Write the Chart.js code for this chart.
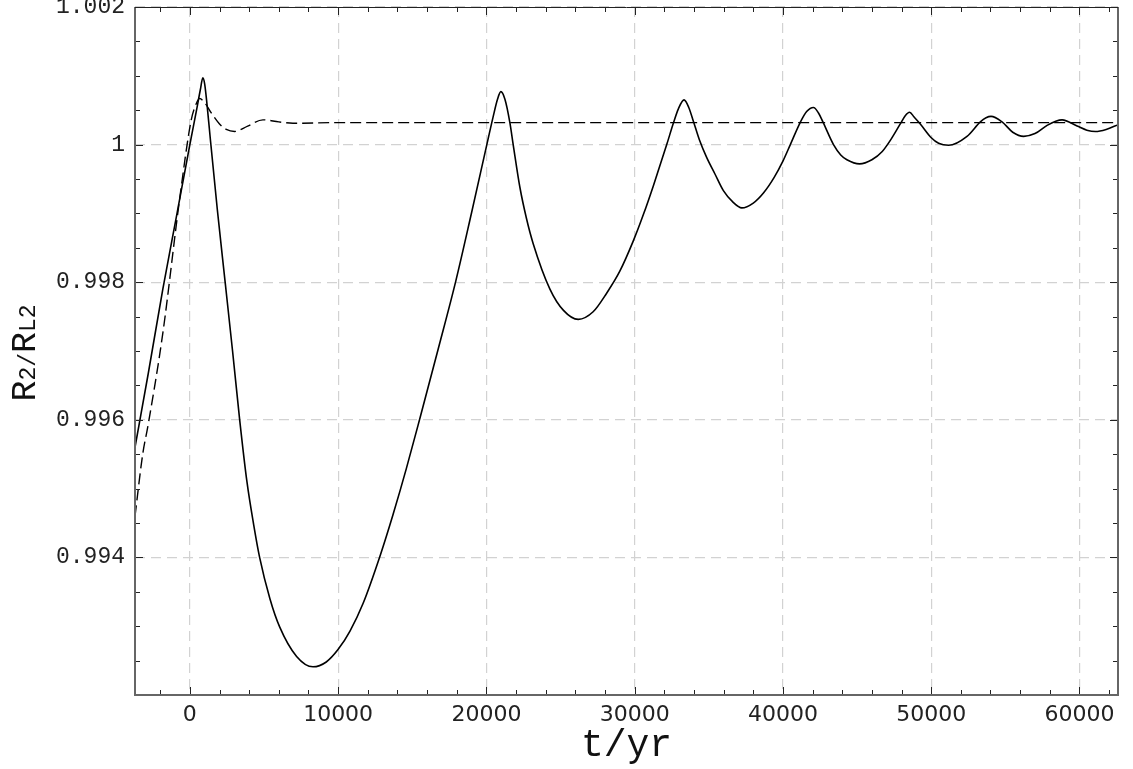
<!DOCTYPE html>
<html>
<head>
<meta charset="utf-8">
<script src="https://cdn.jsdelivr.net/npm/chart.js@4.4.1/dist/chart.umd.min.js"></script>
<style>
  html, body { margin: 0; padding: 0; background: #fff; }
  #wrap { width: 1133px; height: 769px; }
</style>
</head>
<body>
<div id="wrap"><canvas id="c" width="1133" height="769"></canvas></div>
<script>
// solid curve: t (yr) and R2/RL2
const solidT = [-3700, -2800, -1823, -900, 0, 450, 700, 878, 1000, 1150, 1350, 1850, 2380, 2880, 3360, 3850, 4300, 4705, 5400, 6056, 7200, 8305, 9200, 9992, 10800, 11680, 12855, 13700, 14600, 15575, 16750, 17940, 19000, 20030, 20450, 20750, 20976, 21250, 21584, 21807, 22259, 22700, 23157, 24285, 25200, 26195, 27200, 28110, 29000, 29909, 30600, 31258, 32163, 32609, 32950, 33331, 33650, 33960, 34365, 34863, 35400, 35985, 36600, 37227, 38000, 38700, 39400, 40000, 40500, 41163, 41600, 42061, 42400, 42696, 43411, 43900, 44316, 45167, 46000, 46700, 47300, 47914, 48250, 48543, 48850, 49265, 50007, 50500, 51175, 52416, 53315, 53700, 54037, 54780, 55500, 56238, 57000, 57818, 58400, 58830, 59843, 60500, 61080, 61800, 62614];
const solidR = [0.99560, 0.99668, 0.99790, 0.99896, 1.00000, 1.00050, 1.00079, 1.00097, 1.00088, 1.00060, 1.00015, 0.99906, 0.99800, 0.99700, 0.99600, 0.99510, 0.99448, 0.99400, 0.99340, 0.99299, 0.99256, 0.99241, 0.99248, 0.99266, 0.99293, 0.99333, 0.99404, 0.99462, 0.99529, 0.99607, 0.99703, 0.99802, 0.99901, 1.00000, 1.00040, 1.00066, 1.00077, 1.00066, 1.00032, 1.00000, 0.99938, 0.99893, 0.99856, 0.99790, 0.99759, 0.99746, 0.99757, 0.99784, 0.99816, 0.99860, 0.99899, 0.99940, 1.00000, 1.00031, 1.00052, 1.00065, 1.00054, 1.00034, 1.00007, 0.99981, 0.99958, 0.99933, 0.99917, 0.99908, 0.99915, 0.99930, 0.99952, 0.99976, 1.00000, 1.00032, 1.00048, 1.00054, 1.00046, 1.00033, 1.00000, 0.99985, 0.99978, 0.99972, 0.99978, 0.99990, 1.00008, 1.00030, 1.00042, 1.00047, 1.00040, 1.00030, 1.00010, 1.00002, 0.99999, 1.00012, 1.00033, 1.00039, 1.00041, 1.00033, 1.00018, 1.00012, 1.00016, 1.00028, 1.00034, 1.00036, 1.00027, 1.00021, 1.00019, 1.00022, 1.00029];

// dashed curve
const dashT = [-3700, -3173, -2836, -1823, -695, 94, 400, 655, 1000, 1445, 2000, 2457, 3018, 3900, 4928, 6000, 6954, 10000, 20000, 30000, 40000, 50000, 62614];
const dashR = [0.99460, 0.99551, 0.99590, 0.99726, 0.99920, 1.00036, 1.00058, 1.00067, 1.00061, 1.00046, 1.00030, 1.00022, 1.00019, 1.00027, 1.00036, 1.00033, 1.00031, 1.00032, 1.00032, 1.00032, 1.00032, 1.00032, 1.00032];

const xTickValues = [0, 10000, 20000, 30000, 40000, 50000, 60000];
const xTickLabels = ['0', '10000', '20000', '30000', '40000', '50000', '60000'];
const yTickValues = [0.994, 0.996, 0.998, 1, 1.002];
const yTickLabels = ['0.994', '0.996', '0.998', '1', '1.002'];

const xMin = -3700, xMax = 62600;
const yMin = 0.992, yMax = 1.002;
const xMinorStep = 2000, yMinorStep = 0.0005;

const mono = '"Liberation Mono", "Courier New", monospace';

const toPoints = (ts, rs) => ts.map((t, i) => ({ x: t, y: rs[i] }));

// inward ticks on all four sides, frame, and the y title with subscripts
const framePlugin = {
  id: 'framePlugin',
  afterDatasetsDraw(chart) {
    const { ctx, chartArea: a, scales: { x, y } } = chart;
    ctx.save();
    ctx.strokeStyle = '#222';
    ctx.lineWidth = 1;
    ctx.beginPath();
    const nx = Math.round((xMax - xMin) / xMinorStep) + 2;
    for (let k = -2; k < nx; k++) {
      const t = k * xMinorStep;
      if (t < xMin || t > xMax) continue;
      const px = Math.round(x.getPixelForValue(t)) + 0.5;
      const len = t % 10000 === 0 ? 8 : 5;
      ctx.moveTo(px, a.bottom); ctx.lineTo(px, a.bottom - len);
      ctx.moveTo(px, a.top); ctx.lineTo(px, a.top + len);
    }
    const ny = Math.round((yMax - yMin) / yMinorStep);
    for (let k = 0; k <= ny; k++) {
      const py = Math.round(y.getPixelForValue(yMin + k * yMinorStep)) + 0.5;
      const len = k % 4 === 0 ? 8 : 5;
      ctx.moveTo(a.left, py); ctx.lineTo(a.left + len, py);
      ctx.moveTo(a.right, py); ctx.lineTo(a.right - len, py);
    }
    ctx.stroke();

    ctx.strokeStyle = '#666';
    ctx.lineWidth = 2;
    ctx.beginPath();
    ctx.moveTo(a.left, a.top); ctx.lineTo(a.left, a.bottom);
    ctx.lineTo(a.right, a.bottom); ctx.lineTo(a.right, a.top);
    ctx.stroke();
    ctx.strokeStyle = '#222';
    ctx.lineWidth = 1;
    ctx.beginPath();
    ctx.moveTo(a.left, a.top + 0.5); ctx.lineTo(a.right, a.top + 0.5);
    ctx.stroke();
    ctx.restore();
  },
  afterDraw(chart) {
    const { ctx, chartArea: a } = chart;
    const parts = [
      ['R', 35], ['2', 23], ['/', 23], ['R', 35], ['L2', 23]
    ];
    ctx.save();
    ctx.fillStyle = '#111';
    ctx.textBaseline = 'alphabetic';
    let total = 0;
    parts.forEach(([s, size]) => {
      ctx.font = size + 'px ' + mono;
      total += ctx.measureText(s).width;
    });
    ctx.translate(35, (a.top + a.bottom) / 2 + 2);
    ctx.rotate(-Math.PI / 2);
    let cx = -total / 2;
    parts.forEach(([s, size]) => {
      ctx.font = size + 'px ' + mono;
      ctx.fillText(s, cx, 0);
      cx += ctx.measureText(s).width;
    });
    ctx.restore();
  }
};

new Chart(document.getElementById('c'), {
  type: 'line',
  data: {
    datasets: [
      {
        label: 'solid',
        data: toPoints(solidT, solidR),
        borderColor: '#000',
        borderWidth: 1.6,
        pointRadius: 0,
        cubicInterpolationMode: 'monotone',
        fill: false
      },
      {
        label: 'dashed',
        data: toPoints(dashT, dashR),
        borderColor: '#000',
        borderWidth: 1.4,
        borderDash: [11, 5],
        pointRadius: 0,
        cubicInterpolationMode: 'monotone',
        fill: false
      }
    ]
  },
  options: {
    responsive: false,
    animation: false,
    devicePixelRatio: 1,
    layout: { padding: { top: 7, right: 15, left: 0, bottom: 0 } },
    plugins: {
      legend: { display: false },
      tooltip: { enabled: false }
    },
    scales: {
      x: {
        type: 'linear',
        min: xMin,
        max: xMax,
        afterBuildTicks: (scale) => { scale.ticks = xTickValues.map(v => ({ value: v })); },
        afterFit: (scale) => {
          scale.height = 74;
          scale.paddingLeft = 0;
          scale.paddingRight = 0;
        },
        ticks: {
          padding: 7,
          color: '#222',
          font: { family: '"DejaVu Sans", sans-serif', size: 22 },
          maxRotation: 0,
          callback: (v) => xTickLabels[xTickValues.indexOf(v)]
        },
        grid: { color: '#d2d2d2', lineWidth: 1.2, drawTicks: false },
        border: { display: false, dash: [10, 6] },
        title: {
          display: true,
          text: 't/yr',
          color: '#111',
          font: { family: mono, size: 38 },
          padding: { top: 0, bottom: 0 }
        }
      },
      y: {
        type: 'linear',
        min: yMin,
        max: yMax,
        afterBuildTicks: (scale) => { scale.ticks = yTickValues.map(v => ({ value: v })); },
        afterFit: (scale) => {
          scale.width = 135;
          scale.paddingTop = 0;
          scale.paddingBottom = 0;
        },
        ticks: {
          padding: 10,
          color: '#222',
          font: { family: mono, size: 23 },
          callback: (v) => {
            const i = yTickValues.findIndex(t => Math.abs(t - v) < 1e-9);
            return i >= 0 ? yTickLabels[i] : '';
          }
        },
        grid: { color: '#d2d2d2', lineWidth: 1.2, drawTicks: false },
        border: { display: false, dash: [10, 6] }
      }
    }
  },
  plugins: [framePlugin]
});
</script>
</body>
</html>
